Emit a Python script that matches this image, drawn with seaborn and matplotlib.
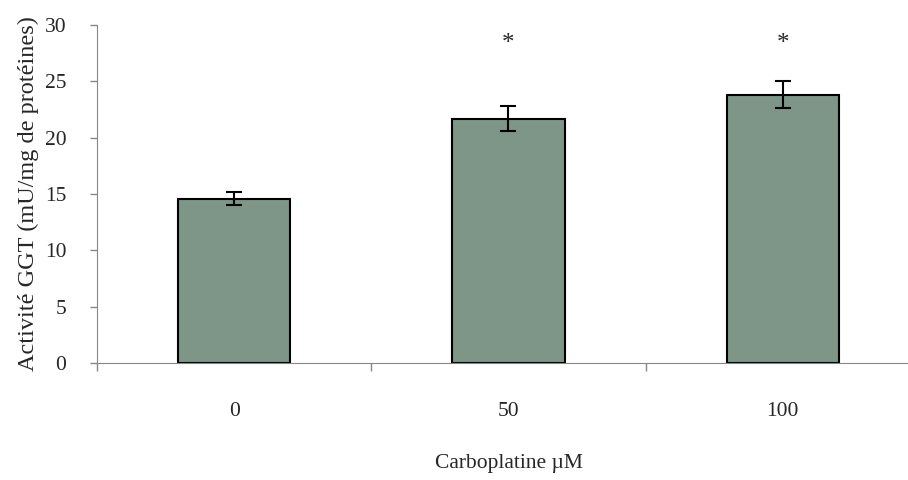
import pandas as pd
import matplotlib.pyplot as plt
import seaborn as sns

doses = ["0", "50", "100"]
ggt = [14.6, 21.7, 23.8]
sem = [0.55, 1.1, 1.2]
signif = ["", "*", "*"]

df = pd.DataFrame({"dose": doses, "ggt": ggt})

sns.set_style("white")
plt.rcParams['font.family'] = ['Liberation Serif', 'DejaVu Serif']

fig = plt.figure(figsize=(9.08, 4.8), dpi=100)
ax = fig.add_axes([97 / 908, 117 / 480, 823 / 908, 338 / 480])

sns.barplot(data=df, x="dose", y="ggt", color="#7d9688", saturation=1,
            width=0.41, edgecolor="black", linewidth=1.5, errorbar=None, ax=ax)
ax.errorbar(range(len(doses)), ggt, yerr=sem, fmt="none", ecolor="black",
            elinewidth=1.5, capsize=6, capthick=1.5)
for i, s in enumerate(signif):
    if s:
        ax.text(i, 28.3, s, ha="center", va="center", fontsize=18)

ax.set_ylim(0, 30)
ax.set_xlim(-0.5, 2.5)
ax.set_yticks(range(0, 31, 5))
ax.set_xticks([-0.5, 0.5, 1.5, 2.5], minor=True)
ax.tick_params(axis="x", which="major", bottom=True, length=0, pad=28, labelsize=15.5)
ax.tick_params(axis="x", which="minor", bottom=True, length=6, width=1,
               color="#888888", direction="out")
ax.tick_params(axis="y", left=True, length=5, width=1, color="#888888",
               direction="out", labelsize=15.5, pad=17)
for side in ["top", "right"]:
    ax.spines[side].set_visible(False)
for side in ["left", "bottom"]:
    ax.spines[side].set_color("#888888")
ax.spines["bottom"].set_bounds(-0.5, 2.5)

ax.set_xlabel("Carboplatine µM", fontsize=15.5, labelpad=24)
ax.set_ylabel("Activité GGT (mU/mg de protéines)", fontsize=17.5, labelpad=4)

fig.savefig("out.png", dpi=100)
